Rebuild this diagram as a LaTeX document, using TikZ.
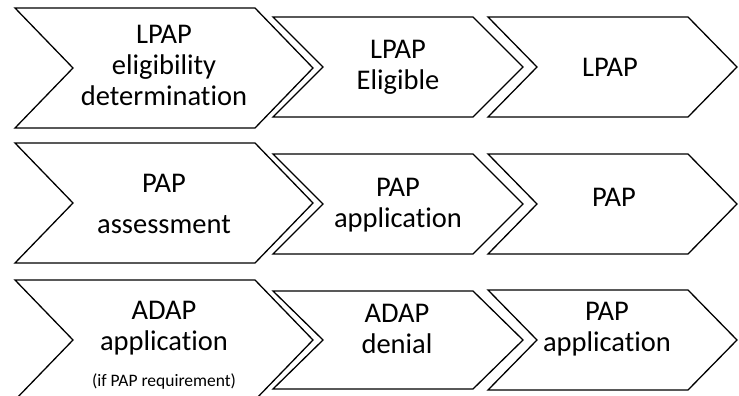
\documentclass[tikz,border=0pt]{standalone}
\usepackage{fontspec}
\setmainfont{Carlito}[Ligatures={NoCommon}]
\begin{document}
\begin{tikzpicture}[x=1pt,y=-1pt,
  chev/.style={draw=black,line width=1.3pt,line join=miter,fill=white},
  lbl/.style={align=center,inner sep=0pt,font=\fontsize{28.5}{31}\selectfont},
  small/.style={font=\fontsize{17.5}{20}\selectfont}]
\useasboundingbox (0,0) rectangle (739,396);
\clip (0,0) rectangle (739,396);
\newcommand\mychev[5]{% x1, x2, cy, h, d
  \path[chev] (#1,#3-#4) -- (#2,#3-#4) -- (#2+#5,#3) -- (#2,#3+#4) -- (#1,#3+#4) -- (#1+#5,#3) -- cycle;}
% row 1
\mychev{15}{255}{68}{60}{58}
\mychev{273}{473}{67}{50}{50}
\mychev{488}{688}{67}{50}{49}
% row 2
\mychev{15}{255}{203}{60}{58}
\mychev{273}{473}{204}{50}{50}
\mychev{488}{688}{204}{50}{49}
% row 3
\mychev{15}{255}{340}{60}{58}
\mychev{273}{473}{340}{49}{50}
\mychev{488}{688}{340}{50}{49}
% labels
\node[lbl] (a1) at (164,65) {LPAP\\eligibility\\determination};
\node[lbl] (b1) at (398,67) {LPAP\\Eligible};
\node[lbl] (c1) at (610,67) {LPAP};
\node[lbl] (a2) at (164,204) {PAP\\[10pt]assessment};
\node[lbl] (b2) at (398,205) {PAP\\application};
\node[lbl] (c2) at (614,197) {PAP};
\node[lbl] (a3) at (164,328) {ADAP\\application};
\node[lbl,small] (a3s) at (164,382) {(if PAP requirement)};
\node[lbl] (b3) at (397,329) {ADAP\\denial};
\node[lbl] (c3) at (607,329) {PAP\\application};
\end{tikzpicture}
\end{document}
